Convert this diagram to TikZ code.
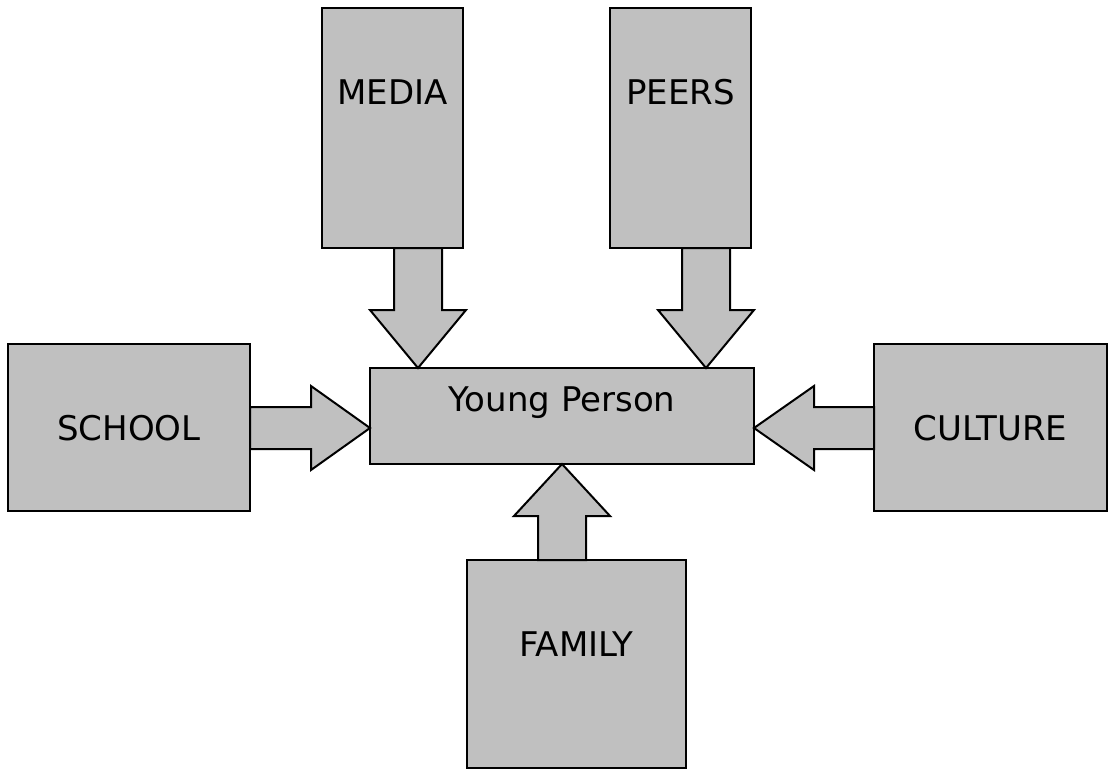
\documentclass[tikz,border=0pt]{standalone}
\usepackage{fontspec}
\setmainfont{DejaVu Sans}
\usetikzlibrary{calc}
\definecolor{boxgray}{RGB}{192,192,192}
\tikzset{
  box/.style={draw, fill=boxgray, line width=1pt, outer sep=0pt, inner sep=0pt},
  boxtext/.style={font=\fontsize{17}{20}\selectfont, text height=0.73em, text depth=0pt, inner sep=0pt},
  fatarrow/.style={draw, fill=boxgray, line width=1pt, line join=miter}
}
% start, tip, shaft half width, head half width, head length
\newcommand\blockarrow[5]{%
  \coordinate (hd) at ($(#2)!#5!(#1)$);
  \draw[fatarrow] ($(#1)!#3!90:(#2)$) -- ($(hd)!#3!90:(#2)$) -- ($(hd)!#4!90:(#2)$) -- (#2)
    -- ($(hd)!#4!-90:(#2)$) -- ($(hd)!#3!-90:(#2)$) -- ($(#1)!#3!-90:(#2)$) -- cycle;
}

\begin{document}
\begin{tikzpicture}[x=0.5pt,y=-0.5pt]
		%%%%% START %%%%%
		\useasboundingbox (0,0) rectangle (1113,776);
		
		\node[box, minimum width=70.5pt, minimum height=120pt, label={[boxtext, yshift=15.5pt]center:MEDIA}] (media) at (392.5,128) {};
		\node[box, minimum width=70.5pt, minimum height=120pt, label={[boxtext, yshift=15.5pt]center:PEERS}] (peers) at (680.5,128) {};
		\node[box, minimum width=121pt, minimum height=83.5pt, label={[boxtext, yshift=-3pt]center:SCHOOL}] (school) at (129,427.5) {};
		\node[box, minimum width=116.5pt, minimum height=83.5pt, label={[boxtext, yshift=-3pt]center:CULTURE}] (culture) at (990.5,427.5) {};
		\node[box, minimum width=192pt, minimum height=48pt, label={[boxtext, yshift=6pt]center:Young Person}] (young) at (562,416) {};
		\node[box, minimum width=109.5pt, minimum height=104pt, label={[boxtext, yshift=7.5pt]center:FAMILY}] (family) at (576.5,664) {};
		
		% arrow tips on the young person box
		\coordinate (tipM) at ($(young.north west)+(48,0)$);
		\coordinate (tipP) at ($(young.north east)+(-48,0)$);
		\coordinate (tipS) at ($(young.west)+(0,12)$);
		\coordinate (tipC) at ($(young.east)+(0,12)$);
		\coordinate (tipF) at (young.south);
		
		\coordinate (baseM) at (media.south -| tipM);
		\coordinate (baseP) at (peers.south -| tipP);
		\coordinate (baseS) at (school.east |- tipS);
		\coordinate (baseC) at (culture.west |- tipC);
		\coordinate (baseF) at (family.north -| tipF);
		
		\blockarrow{baseM}{tipM}{12pt}{24pt}{29pt}
		\blockarrow{baseP}{tipP}{12pt}{24pt}{29pt}
		\blockarrow{baseS}{tipS}{10.5pt}{21pt}{29.5pt}
		\blockarrow{baseC}{tipC}{10.5pt}{21pt}{30pt}
		\blockarrow{baseF}{tipF}{12pt}{24pt}{26pt}
		
		%%%%% END %%%%%
\end{tikzpicture}
\end{document}
